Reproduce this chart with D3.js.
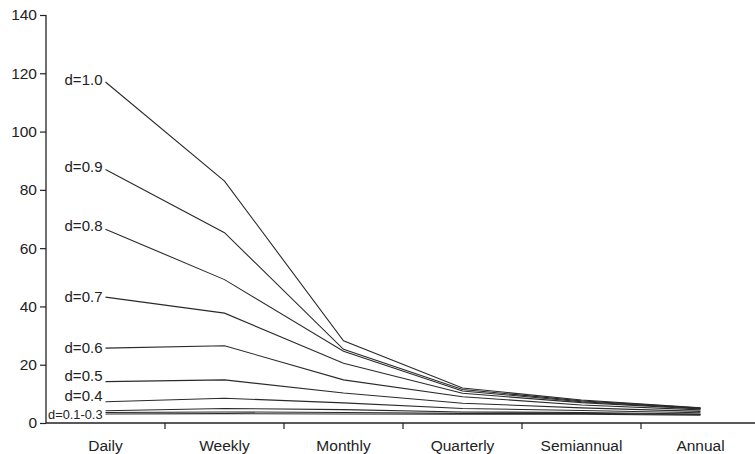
<!DOCTYPE html>
<html>
<head>
<meta charset="utf-8">
<script src="https://cdn.jsdelivr.net/npm/d3@7"></script>
<style>
  html, body { margin: 0; padding: 0; background: #fff; }
  svg { display: block; font-family: "Liberation Sans", Arial, Helvetica, sans-serif; }
</style>
</head>
<body>
<svg id="chart" width="755" height="454"></svg>
<script>
// Sampling frequencies along the x axis
const categories = ["Daily", "Weekly", "Monthly", "Quarterly", "Semiannual", "Annual"];

// One curve per d value, one number per frequency
const seriesNames = ["d=1.0", "d=0.9", "d=0.8", "d=0.7", "d=0.6", "d=0.5", "d=0.4", "d=0.3", "d=0.2", "d=0.1"];
const d10 = [117.0, 83.0, 28.2, 12.0, 7.9, 5.2];
const d09 = [87.0, 65.3, 25.3, 11.5, 7.6, 5.1];
const d08 = [66.5, 49.2, 24.6, 11.0, 7.3, 5.0];
const d07 = [43.2, 37.7, 20.5, 10.2, 7.0, 4.8];
const d06 = [25.7, 26.5, 14.8, 9.0, 6.2, 4.5];
const d05 = [14.2, 14.8, 10.3, 6.8, 5.2, 4.0];
const d04 = [7.3, 8.5, 6.9, 5.0, 4.3, 3.5];
const d03 = [4.2, 5.0, 4.6, 3.8, 3.6, 3.1];
const d02 = [3.6, 3.8, 3.6, 3.3, 3.3, 2.9];
const d01 = [3.1, 3.2, 3.1, 3.0, 3.0, 2.7];
const seriesValues = [d10, d09, d08, d07, d06, d05, d04, d03, d02, d01];

// Curve labels drawn at the left end of the lines
const labelTexts = ["d=1.0", "d=0.9", "d=0.8", "d=0.7", "d=0.6", "d=0.5", "d=0.4", "d=0.1-0.3"];
const labelAnchors = [0, 1, 2, 3, 4, 5, 6, 8]; // series index each label sits next to

const yTicks = [0, 20, 40, 60, 80, 100, 120, 140];

// ---- layout ----
const svg = d3.select("#chart");
const plotLeft = 46, plotRight = 760, plotTop = 15, plotBottom = 423;
const ink = "#222";

const x = d3.scaleBand().domain(categories).range([plotLeft, plotRight]).padding(0);
const xc = c => x(c) + x.bandwidth() / 2;
const y = d3.scaleLinear().domain([0, 140]).range([plotBottom, plotTop]);

// y axis
const yAxis = svg.append("g")
  .attr("transform", `translate(${plotLeft},0)`)
  .call(d3.axisLeft(y).tickValues(yTicks).tickSize(6).tickPadding(3).tickFormat(d3.format("d")));
yAxis.select(".domain").attr("stroke", ink).attr("stroke-width", 1.3).attr("d", `M0,${plotTop}V${plotBottom}`);
yAxis.selectAll(".tick line").attr("stroke", ink).attr("stroke-width", 1.2);
yAxis.selectAll(".tick text").attr("fill", ink).attr("font-size", 15.5)
  .attr("font-family", "'Liberation Sans', Arial, sans-serif");

// x axis: labels centred in each band, tick marks on band boundaries
const xAxis = svg.append("g")
  .attr("transform", `translate(0,${plotBottom})`)
  .call(d3.axisBottom(x).tickSize(0).tickPadding(17));
xAxis.select(".domain").attr("stroke", ink).attr("stroke-width", 1.3).attr("d", `M${plotLeft},0H${plotRight}`);
xAxis.selectAll(".tick text").attr("fill", ink).attr("font-size", 15.5)
  .attr("font-family", "'Liberation Sans', Arial, sans-serif");
xAxis.selectAll("line.boundary")
  .data(categories.slice(1))
  .enter().append("line")
  .attr("class", "boundary")
  .attr("x1", c => x(c)).attr("x2", c => x(c))
  .attr("y1", 0).attr("y2", 6)
  .attr("stroke", ink).attr("stroke-width", 1.2);

// curves
const line = d3.line()
  .x((v, i) => xc(categories[i]))
  .y(v => y(v));

svg.append("g")
  .selectAll("path")
  .data(seriesValues)
  .enter().append("path")
  .attr("d", line)
  .attr("fill", "none")
  .attr("stroke", "#2a2a2a")
  .attr("stroke-width", 1.1);

// curve labels, right-aligned just before the Daily point
const labelNudge = [-2, -3, -3, 0, 0, -6, -6, 2];
svg.append("g")
  .selectAll("text")
  .data(labelTexts)
  .enter().append("text")
  .attr("x", xc(categories[0]) - 3)
  .attr("y", (t, i) => y(seriesValues[labelAnchors[i]][0]) + labelNudge[i])
  .attr("dy", "0.35em")
  .attr("text-anchor", "end")
  .attr("fill", ink)
  .attr("font-size", (t, i) => i === labelTexts.length - 1 ? 12.8 : 15)
  .text(t => t);
</script>
</body>
</html>
